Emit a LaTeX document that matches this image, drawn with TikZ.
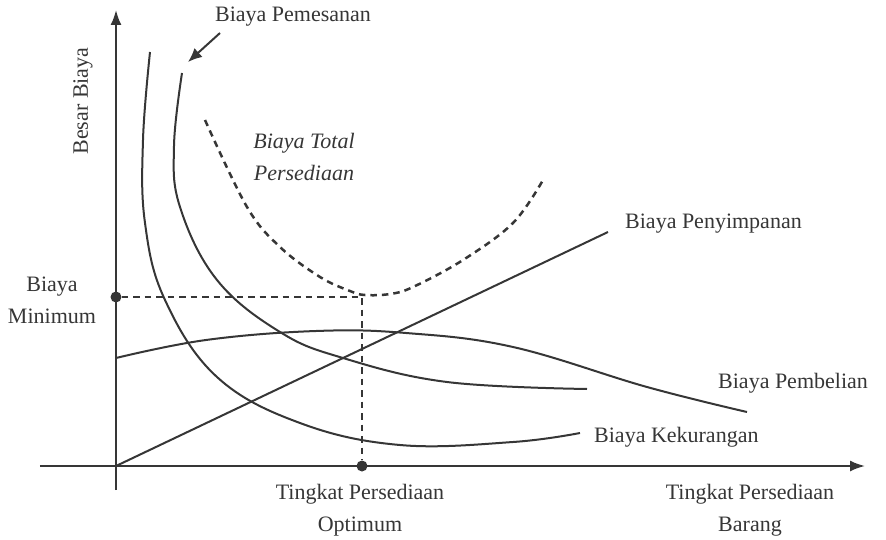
\documentclass[tikz,border=0pt]{standalone}
\usepackage{fontspec}
\setmainfont{Liberation Serif}
\definecolor{InkGray}{HTML}{363636}
\usetikzlibrary{arrows.meta}

\begin{document}
\begin{tikzpicture}[
    x=1pt, y=1pt,
    >={Latex[length=15pt,width=11pt]},
    axis/.style={draw=InkGray, line width=2pt},
    curve/.style={draw=InkGray, line width=2pt},
    dashcurve/.style={draw=InkGray, line width=2.5pt, dash pattern=on 6.5pt off 5pt},
    lbl/.style={text=InkGray, font=\fontsize{22}{32}\selectfont, inner sep=0pt, align=center},
    dot/.style={circle, fill=InkGray, inner sep=0pt, minimum size=11pt}
  ]
    \useasboundingbox (-116,-73) rectangle (770,466);

    % axes
    \coordinate (O) at (0,0);
    \coordinate (ybot) at (0,-24);
    \coordinate (ytop) at (0,456);
    \coordinate (xleft) at (-76,0);
    \coordinate (xright) at (749,0);
    \draw[axis,->] (ybot) -- (ytop);
    \draw[axis,->] (xleft) -- (xright);

    % cost curves
    \draw[curve] plot[smooth, tension=0.65] coordinates {(34,414) (27,326) (29,243) (49,166) (101,89) (184,43) (284,21) (397,24) (464,33)};
    \draw[curve] plot[smooth, tension=0.65] coordinates {(66,393) (58,320) (64,259) (101,186) (164,134) (227,108) (331,84) (471,77)};
    \draw[curve] plot[smooth, tension=0.65] coordinates {(0,108) (90,126) (200,135) (290,133) (397,119) (531,79) (631,54)};
    \coordinate (simpan) at (492,234);
    \draw[curve] (O) -- (simpan);

    % total cost
    \draw[dashcurve] plot[smooth, tension=0.6] coordinates {(89,346) (131,259) (164,219) (204,189) (234,175) (249,171) (274,172) (297,179) (347,206) (397,243) (427,286)};

    % optimum
    \node[dot] (bmin) at (0,169) {};
    \node[dot] (qopt) at (246,0) {};
    \coordinate (opt) at (246,169);
    \draw[dashcurve, line width=2.2pt] (bmin) -- (opt) -- (qopt);

    % labels
    \node[lbl] (pemesanan) at (177,449) {Biaya Pemesanan};
    \coordinate (pmtail) at (104,433);
    \coordinate (pmtip) at (72,404);
    \draw[curve,->,>={Latex[length=14pt,width=12pt]}] (pmtail) -- (pmtip);

    \node[lbl, rotate=90] (besar) at (-33,365) {Besar Biaya};
    \node[lbl] (minimum) at (-64,166) {Biaya\\Minimum};
    \node[lbl, font=\fontsize{22}{32}\selectfont\itshape] (total) at (188,309) {Biaya Total\\Persediaan};
    \node[lbl, anchor=west] (penyimpanan) at (509,242) {Biaya Penyimpanan};
    \node[lbl, anchor=west] (pembelian) at (602,83) {Biaya Pembelian};
    \node[lbl, anchor=west] (kekurangan) at (478,29) {Biaya Kekurangan};
    \node[lbl] (optimum) at (244,-44) {Tingkat Persediaan\\Optimum};
    \node[lbl] (barang) at (634,-44) {Tingkat Persediaan\\Barang};
\end{tikzpicture}
\end{document}
